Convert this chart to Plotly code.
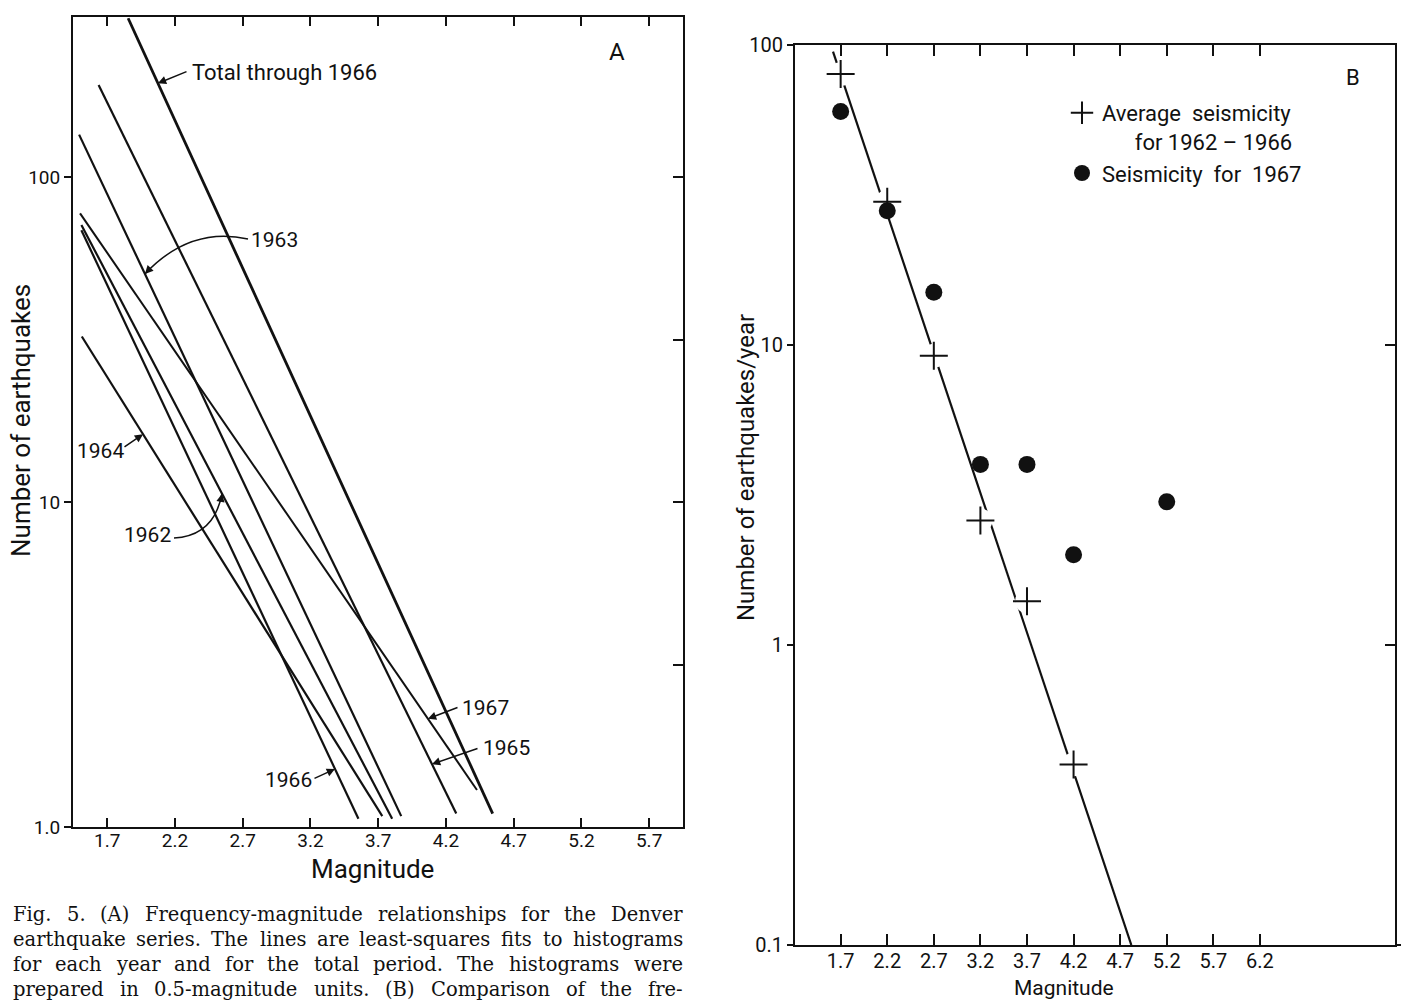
import math
import plotly.graph_objects as go

W, H = 1401, 1002
FONT = "Roboto"

# ---------------- Panel A data: least-squares fit lines (endpoints) -------------
a_labels = ["Total through 1966", "1965", "1963", "1967", "1962", "1966", "1964"]
a_mag_start = [1.854, 1.636, 1.492, 1.499, 1.509, 1.509, 1.512]
a_num_start = [308.0, 192.0, 135.0, 77.3, 71.2, 68.6, 32.3]
a_mag_end = [4.545, 4.276, 3.870, 4.429, 3.803, 3.554, 3.730]
a_num_end = [1.10, 1.10, 1.08, 1.30, 1.06, 1.06, 1.08]
a_widths = [2.8, 2.2, 2.2, 2.0, 2.2, 2.2, 2.2]

a_xticks = [1.7, 2.2, 2.7, 3.2, 3.7, 4.2, 4.7, 5.2, 5.7]
a_yticks = [1, 10, 100]
a_yticktext = ["1.0", "10", "100"]

# ---------------- Panel B data --------------------------------------------------------------------
b_cross_mag = [1.7, 2.2, 2.7, 3.2, 3.7, 4.2]
b_cross_val = [80, 30, 9.2, 2.6, 1.4, 0.4]          # average seismicity 1962-1966
b_dot_mag = [1.7, 2.2, 2.7, 3.2, 3.7, 4.2, 5.2]
b_dot_val = [60, 28, 15, 4, 4, 2, 3]                # seismicity for 1967
b_fit_mag = [1.618, 4.82]
b_fit_val = [95, 0.1]

b_xticks = [1.7, 2.2, 2.7, 3.2, 3.7, 4.2, 4.7, 5.2, 5.7, 6.2]
b_yticks = [0.1, 1, 10, 100]
b_yticktext = ["0.1", "1", "10", "100"]

caption_lines = [
    "Fig. 5. (A) Frequency-magnitude relationships for the Denver",
    "earthquake series. The lines are least-squares fits to histograms",
    "for each year and for the total period. The histograms were",
    "prepared in 0.5-magnitude units. (B) Comparison of the fre-",
]

# ---------------- geometry (pixels) ---------------------------------------------------------------
A_L, A_R, A_T, A_B = 73, 683, 17, 827
A_XR = [1.447, 5.95]
A_YR = [0.0, (A_B - A_T) / 325.0]
B_L, B_R, B_T, B_B = 795, 1395, 45, 945
B_XR = [1.21, 7.65]
B_YR = [-1.0, 2.0]


def a_px(x, n):
    px = A_L + (x - A_XR[0]) / (A_XR[1] - A_XR[0]) * (A_R - A_L)
    py = A_B - (math.log10(n) - A_YR[0]) / (A_YR[1] - A_YR[0]) * (A_B - A_T)
    return px, py


def paper(px, py):
    return px / W, 1 - py / H


def a_line_n(i, x):
    ls, le = math.log10(a_num_start[i]), math.log10(a_num_end[i])
    t = (x - a_mag_start[i]) / (a_mag_end[i] - a_mag_start[i])
    return 10 ** (ls + (le - ls) * t)


fig = go.Figure()

# Panel A lines
for i, lab in enumerate(a_labels):
    fig.add_trace(go.Scatter(
        x=[a_mag_start[i], a_mag_end[i]], y=[a_num_start[i], a_num_end[i]],
        mode="lines", name=lab, showlegend=False,
        line=dict(color="#111", width=a_widths[i]), xaxis="x", yaxis="y"))

# Panel B
fig.add_trace(go.Scatter(x=b_fit_mag, y=b_fit_val, mode="lines", showlegend=False,
                         line=dict(color="#111", width=2.2), xaxis="x2", yaxis="y2"))
fig.add_trace(go.Scatter(x=b_cross_mag, y=b_cross_val, mode="markers", showlegend=False,
                         marker=dict(symbol="circle", size=24, color="white"),
                         xaxis="x2", yaxis="y2", hoverinfo="skip"))
fig.add_trace(go.Scatter(x=b_cross_mag, y=b_cross_val, mode="markers",
                         name="Average\u00a0\u00a0seismicity<br>\u00a0\u00a0\u00a0\u00a0\u00a0\u00a0for 1962 \u2013 1966",
                         marker=dict(symbol="cross-thin", size=20, color="#111",
                                     line=dict(color="#111", width=2)),
                         xaxis="x2", yaxis="y2"))
fig.add_trace(go.Scatter(x=b_dot_mag, y=b_dot_val, mode="markers",
                         name="Seismicity\u00a0\u00a0for\u00a0\u00a01967",
                         marker=dict(symbol="circle", size=17, color="#111"),
                         xaxis="x2", yaxis="y2"))
# empty traces so the right-hand tick-only axes get drawn
fig.add_trace(go.Scatter(x=[None], y=[None], xaxis="x", yaxis="y3", showlegend=False,
                         hoverinfo="skip"))
fig.add_trace(go.Scatter(x=[None], y=[None], xaxis="x2", yaxis="y4", showlegend=False,
                         hoverinfo="skip"))

axis_common = dict(showgrid=False, zeroline=False, showline=True, linecolor="#111",
                   linewidth=2, tickcolor="#111", tickwidth=2, automargin=False)
right_common = dict(showticklabels=False, showline=False, showgrid=False, zeroline=False,
                    tickwidth=2, tickcolor="#111", automargin=False, ticks="inside",
                    ticklen=10, type="log", side="right")

fig.update_layout(
    width=W, height=H, margin=dict(l=0, r=0, t=0, b=0, autoexpand=False),
    paper_bgcolor="white", plot_bgcolor="white",
    font=dict(family=FONT, color="#111"),
    xaxis=dict(domain=[A_L / W, A_R / W], range=A_XR, tickvals=a_xticks,
               ticktext=[f"{v:.1f}" for v in a_xticks], ticks="inside", ticklen=9,
               mirror="ticks", anchor="y", tickfont=dict(size=19), ticklabelstandoff=-5,
               **axis_common),
    yaxis=dict(domain=[1 - A_B / H, 1 - A_T / H], type="log", range=A_YR,
               tickvals=a_yticks, ticktext=a_yticktext, ticks="outside", ticklen=7,
               mirror=True, anchor="x", tickfont=dict(size=19), **axis_common),
    yaxis3=dict(overlaying="y", anchor="x", range=A_YR,
                tickvals=[10 ** 0.5, 10, 10 ** 1.5, 100], **right_common),
    xaxis2=dict(domain=[B_L / W, B_R / W], range=B_XR, tickvals=b_xticks,
                ticktext=[f"{v:.1f}" for v in b_xticks], ticks="inside", ticklen=11,
                mirror="ticks", anchor="y2", tickfont=dict(size=20), ticklabelstandoff=-3,
                **axis_common),
    yaxis2=dict(domain=[1 - B_B / H, 1 - B_T / H], type="log", range=B_YR,
                tickvals=b_yticks, ticktext=b_yticktext, ticks="outside", ticklen=6,
                mirror=True, anchor="x2", tickfont=dict(size=20), **axis_common),
    yaxis4=dict(overlaying="y2", anchor="x2", range=B_YR, tickvals=[1, 10], **right_common),
    legend=dict(x=1062 / W, y=1 - 92 / H, xanchor="left", yanchor="top",
                font=dict(size=22, family=FONT), bgcolor="rgba(0,0,0,0)",
                valign="top", itemwidth=30, tracegroupgap=0),
)

ann = []
shapes = []

# bottom axis line of panel B runs on to the page edge
shapes.append(dict(type="line", xref="paper", yref="paper",
                   x0=B_R / W, x1=1.0, y0=1 - B_B / H, y1=1 - B_B / H,
                   line=dict(color="#111", width=2)))


def text(px, py, s, size=20, xanchor="center", angle=0, family=FONT):
    x, y = paper(px, py)
    ann.append(dict(x=x, y=y, xref="paper", yref="paper", text=s, showarrow=False,
                    xanchor=xanchor, yanchor="middle", textangle=angle,
                    font=dict(size=size, family=family, color="#111")))


def arrow_to_line(i, tip_mag, tail_px, tail_py):
    tpx, tpy = a_px(tip_mag, a_line_n(i, tip_mag))
    x, y = paper(tpx, tpy)
    ann.append(dict(x=x, y=y, xref="paper", yref="paper", text="", showarrow=True,
                    ax=tail_px - tpx, ay=tail_py - tpy, arrowhead=2, arrowsize=1.1,
                    arrowwidth=1.5, arrowcolor="#111", standoff=0))
    return tpx, tpy


def curved_arrow(i, tip_mag, start, ctrl):
    tpx, tpy = a_px(tip_mag, a_line_n(i, tip_mag))
    sx, sy = paper(*start)
    cx, cy = paper(*ctrl)
    ex, ey = paper(tpx, tpy)
    shapes.append(dict(type="path", xref="paper", yref="paper",
                       path=f"M {sx},{sy} Q {cx},{cy} {ex},{ey}",
                       line=dict(color="#111", width=1.5)))
    dx, dy = ctrl[0] - tpx, ctrl[1] - tpy
    d = math.hypot(dx, dy)
    ann.append(dict(x=ex, y=ey, xref="paper", yref="paper", text="", showarrow=True,
                    ax=dx / d * 10, ay=dy / d * 10, arrowhead=2, arrowsize=1.1,
                    arrowwidth=1.5, arrowcolor="#111", standoff=0))


idx = {lab: i for i, lab in enumerate(a_labels)}

# Panel A labels
text(617, 52, "A", size=24)
text(190, 72, "Total through 1966", size=22, xanchor="left")
arrow_to_line(idx["Total through 1966"], 2.074, 188, 71)
text(274, 240, "1963", size=21)
curved_arrow(idx["1963"], 1.978, (248, 239), (190, 226))
text(100, 451, "1964", size=21)
arrow_to_line(idx["1964"], 1.964, 123, 448)
text(147, 535, "1962", size=21)
curved_arrow(idx["1962"], 2.547, (174, 538), (214, 536))
text(288, 780, "1966", size=21)
arrow_to_line(idx["1966"], 3.381, 313, 779)
text(485, 708, "1967", size=21)
arrow_to_line(idx["1967"], 4.067, 459, 707)
text(506, 748, "1965", size=21)
arrow_to_line(idx["1965"], 4.097, 479, 748)

# Axis titles
text(21, 421, "Number of earthquakes", size=26, angle=-90)
text(372, 869, "Magnitude", size=26)
text(746, 468, "Number of earthquakes/year", size=24, angle=-90)
text(1064, 988, "Magnitude", size=21)
text(1353, 77, "B", size=22)

# Caption, justified using approximate DejaVu Serif advance widths (em)
DW = {" ": .318, "(": .390, ")": .390, ",": .318, "-": .338, ".": .318,
      "A": .722, "B": .735, "C": .765, "D": .802, "E": .730, "F": .694, "T": .703,
      "a": .596, "b": .640, "c": .560, "d": .640, "e": .592, "f": .370, "g": .640,
      "h": .644, "i": .320, "j": .310, "k": .606, "l": .320, "m": .948, "n": .644,
      "o": .602, "p": .640, "q": .640, "r": .478, "s": .513, "t": .402, "u": .644,
      "v": .565, "w": .856, "x": .564, "y": .565, "z": .527}
CAP_SIZE = 19.5
CAP_FONT = "DejaVu Serif"


def tw(s):
    return sum(DW.get(c, .636) for c in s) * CAP_SIZE


for li, line in enumerate(caption_lines):
    words = line.split(" ")
    total = sum(tw(w) for w in words)
    gap = (682 - 12 - total) / (len(words) - 1)
    xcur = 12
    yc = 914 + 25 * li
    for w_ in words:
        x, y = paper(xcur, yc)
        ann.append(dict(x=x, y=y, xref="paper", yref="paper", text=w_, showarrow=False,
                        xanchor="left", yanchor="middle", borderpad=0,
                        font=dict(size=CAP_SIZE, family=CAP_FONT, color="#111")))
        xcur += tw(w_) + gap

fig.update_layout(annotations=ann, shapes=shapes)
fig.write_html("out.html", config={"displayModeBar": False},
               post_script="document.body.style.margin='0px';"
                           "document.body.style.overflow='hidden';")
